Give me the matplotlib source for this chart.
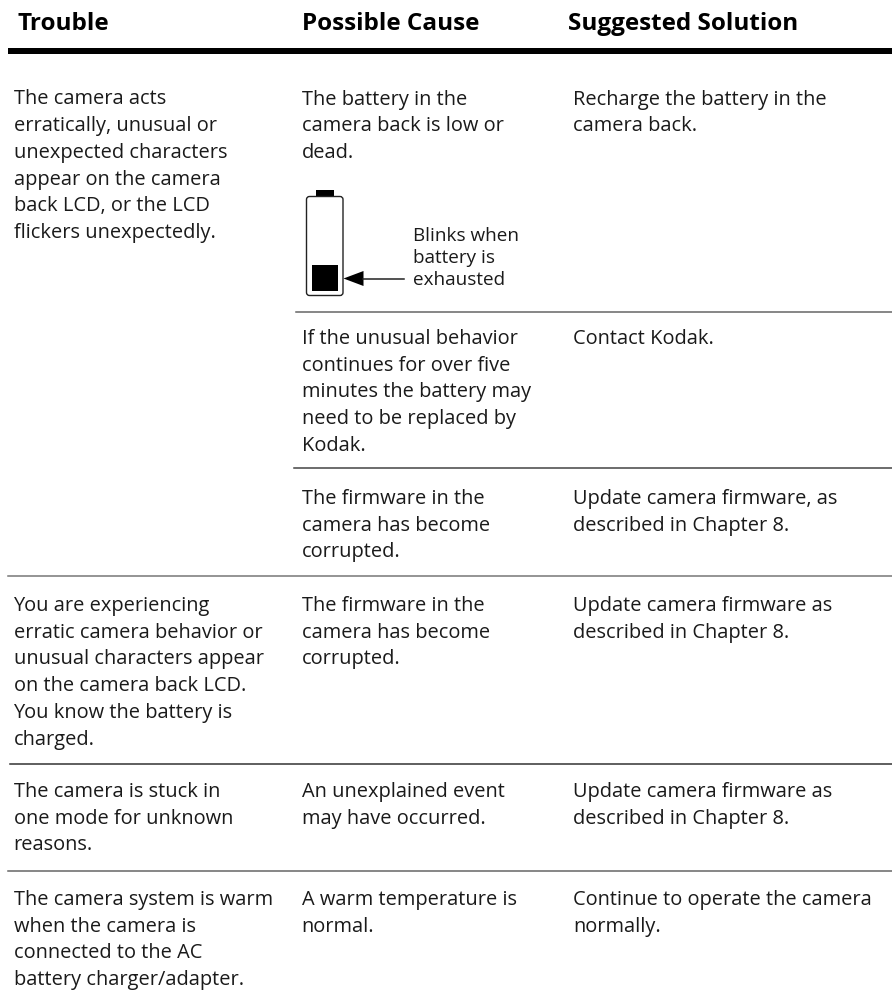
import matplotlib
matplotlib.use('Agg')
import matplotlib.pyplot as plt
from matplotlib.patches import FancyBboxPatch, Rectangle, Polygon

plt.rcParams['font.family'] = ['Open Sans', 'DejaVu Sans']

headers = ['Trouble', 'Possible Cause', 'Suggested Solution']

trouble = [
    ['The camera acts', 'erratically, unusual or', 'unexpected characters', 'appear on the camera',
     'back LCD, or the LCD', 'flickers unexpectedly.'],
    ['You are experiencing', 'erratic camera behavior or', 'unusual characters appear',
     'on the camera back LCD.', 'You know the battery is', 'charged.'],
    ['The camera is stuck in', 'one mode for unknown', 'reasons.'],
    ['The camera system is warm', 'when the camera is', 'connected to the AC', 'battery charger/adapter.'],
]
cause = [
    ['The battery in the', 'camera back is low or', 'dead.'],
    ['If the unusual behavior', 'continues for over five', 'minutes the battery may',
     'need to be replaced by', 'Kodak.'],
    ['The firmware in the', 'camera has become', 'corrupted.'],
    ['The firmware in the', 'camera has become', 'corrupted.'],
    ['An unexplained event', 'may have occurred.'],
    ['A warm temperature is', 'normal.'],
]
solution = [
    ['Recharge the battery in the', 'camera back.'],
    ['Contact Kodak.'],
    ['Update camera firmware, as', 'described in Chapter 8.'],
    ['Update camera firmware as', 'described in Chapter 8.'],
    ['Update camera firmware as', 'described in Chapter 8.'],
    ['Continue to operate the camera', 'normally.'],
]
battery_note = ['Blinks when', 'battery is', 'exhausted']

# baseline of the first line in each block, pixels
trouble_y = [104.5, 611, 797, 905]
row_y = [104.5, 344, 504, 611, 797, 905]
# rules: y, x start, colour
rules = [(312, 296, '#666666'), (468, 294, '#444444'), (576, 8, '#777777'),
         (764, 10, '#333333'), (871, 8, '#666666')]

COL_X = [13.5, 301.5, 573]
HEAD_X = [18, 301.5, 568]
LINE = 26.7
SIZE = 14.4


def put_lines(ax, x, y, lines, step=LINE, size=SIZE):
    for i, s in enumerate(lines):
        ax.text(x, y + i * step, s, fontsize=size, color='#1a1a1a', va='baseline', ha='left')


fig = plt.figure(figsize=(8.92, 9.91), dpi=100)
ax = fig.add_axes([0, 0, 1, 1])
ax.set_xlim(0, 892)
ax.set_ylim(991, 0)
ax.axis('off')

for x, h in zip(HEAD_X, headers):
    ax.text(x, 29.5, h, fontsize=17.5, fontweight='bold', color='black', va='baseline', ha='left')
ax.add_patch(Rectangle((8, 48), 884, 6, color='black', lw=0))

for y, x0, c in rules:
    ax.plot([x0, 892], [y, y], color=c, lw=1.1)

for y, lines in zip(trouble_y, trouble):
    put_lines(ax, COL_X[0], y, lines)
for y, lines in zip(row_y, cause):
    put_lines(ax, COL_X[1], y, lines)
for y, lines in zip(row_y, solution):
    put_lines(ax, COL_X[2], y, lines)

# battery icon
ax.add_patch(Rectangle((316, 189.5), 18, 7, color='black', lw=0))
ax.add_patch(FancyBboxPatch((306.5, 196.5), 36.5, 99, boxstyle='round,pad=0,rounding_size=3',
                            fc='white', ec='#222222', lw=1))
ax.add_patch(Rectangle((312, 264.5), 26, 26, color='black', lw=0))
ax.add_patch(Polygon([[343.5, 278.5], [363.5, 271], [363.5, 286]], color='black', lw=0))
ax.plot([363, 404], [278.5, 278.5], color='#222222', lw=1.1)
put_lines(ax, 413, 241, battery_note, step=22, size=13.6)

fig.savefig('out.png', dpi=100)
